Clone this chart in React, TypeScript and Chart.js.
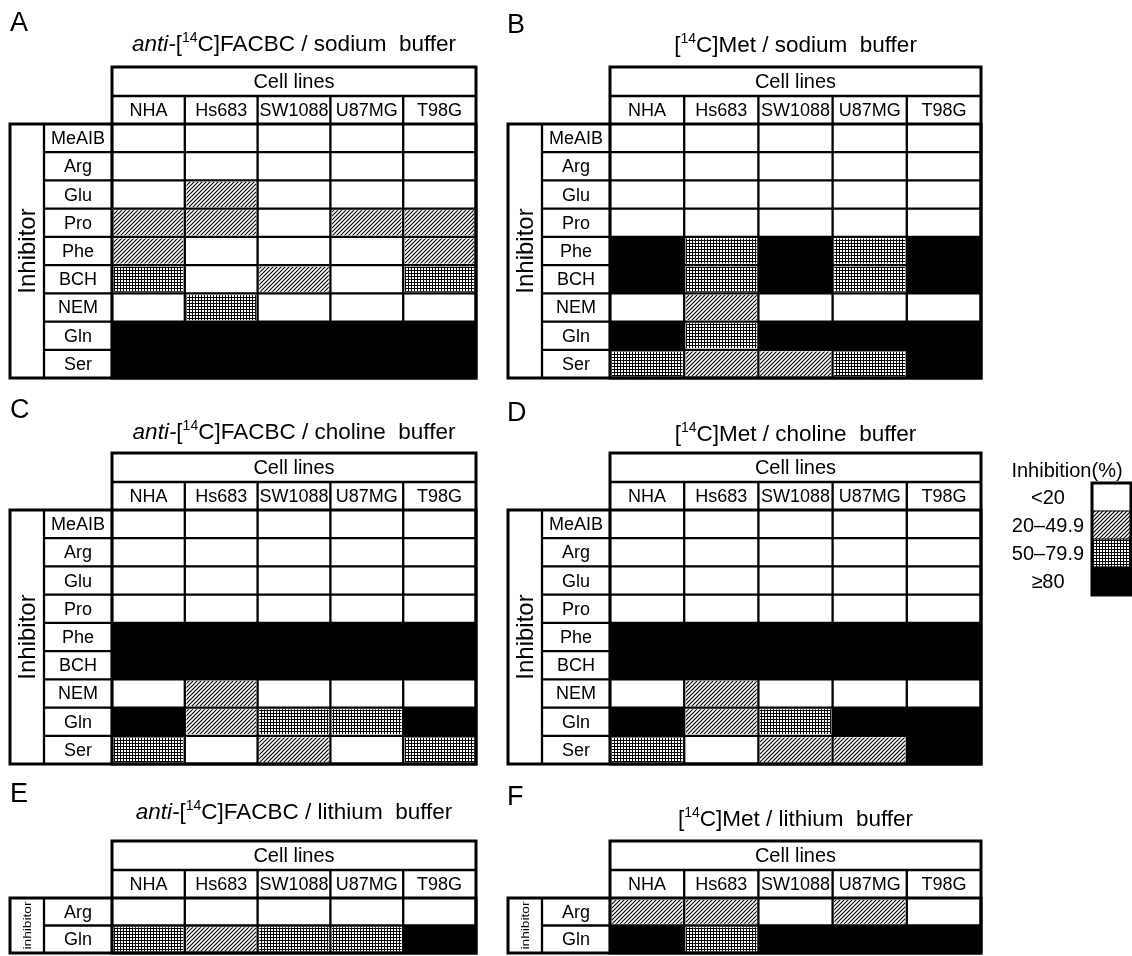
import React, { useEffect, useRef } from 'react';
import { Chart, registerables } from 'chart.js';
Chart.register(...registerables);

const FONT = '"Liberation Sans", Arial, Helvetica, sans-serif';

// ---------- data ----------
const cellLines = ['NHA', 'Hs683', 'SW1088', 'U87MG', 'T98G'];
const inhibitors = ['MeAIB', 'Arg', 'Glu', 'Pro', 'Phe', 'BCH', 'NEM', 'Gln', 'Ser'];
const lithiumInhibitors = ['Arg', 'Gln'];
// levels: 0 = <20, 1 = 20–49.9, 2 = 50–79.9, 3 = ≥80   (rows = inhibitors, cols = cell lines)
const legendLabels = ['<20', '20–49.9', '50–79.9', '≥80'];
const legendLevels = [0, 1, 2, 3];

const facbcSodium = [
  [0, 0, 0, 0, 0],
  [0, 0, 0, 0, 0],
  [0, 1, 0, 0, 0],
  [1, 1, 0, 1, 1],
  [1, 0, 0, 0, 1],
  [2, 0, 1, 0, 2],
  [0, 2, 0, 0, 0],
  [3, 3, 3, 3, 3],
  [3, 3, 3, 3, 3],
];
const metSodium = [
  [0, 0, 0, 0, 0],
  [0, 0, 0, 0, 0],
  [0, 0, 0, 0, 0],
  [0, 0, 0, 0, 0],
  [3, 2, 3, 2, 3],
  [3, 2, 3, 2, 3],
  [0, 1, 0, 0, 0],
  [3, 2, 3, 3, 3],
  [2, 1, 1, 2, 3],
];
const facbcCholine = [
  [0, 0, 0, 0, 0],
  [0, 0, 0, 0, 0],
  [0, 0, 0, 0, 0],
  [0, 0, 0, 0, 0],
  [3, 3, 3, 3, 3],
  [3, 3, 3, 3, 3],
  [0, 1, 0, 0, 0],
  [3, 1, 2, 2, 3],
  [2, 0, 1, 0, 2],
];
const metCholine = [
  [0, 0, 0, 0, 0],
  [0, 0, 0, 0, 0],
  [0, 0, 0, 0, 0],
  [0, 0, 0, 0, 0],
  [3, 3, 3, 3, 3],
  [3, 3, 3, 3, 3],
  [0, 1, 0, 0, 0],
  [3, 1, 2, 3, 3],
  [2, 0, 1, 1, 3],
];
const facbcLithium = [
  [0, 0, 0, 0, 0],
  [2, 1, 2, 2, 3],
];
const metLithium = [
  [1, 1, 0, 1, 0],
  [3, 2, 3, 3, 3],
];

// ---------- fills ----------
let fillCache: any[] | null = null;
function getFills() {
  if (fillCache) return fillCache;
  const hatch = document.createElement('canvas');
  hatch.width = 4; hatch.height = 4;
  const h = hatch.getContext('2d')!;
  h.fillStyle = '#fff'; h.fillRect(0, 0, 4, 4);
  h.strokeStyle = '#000'; h.lineWidth = 1.1;
  h.beginPath();
  h.moveTo(0, 4); h.lineTo(4, 0);
  h.moveTo(-1, 1); h.lineTo(1, -1);
  h.moveTo(3, 5); h.lineTo(5, 3);
  h.stroke();
  const grid = document.createElement('canvas');
  grid.width = 3; grid.height = 3;
  const g = grid.getContext('2d')!;
  g.fillStyle = '#fff'; g.fillRect(0, 0, 3, 3);
  g.fillStyle = '#000'; g.fillRect(0, 0, 3, 1); g.fillRect(0, 0, 1, 3);
  const ctx = document.createElement('canvas').getContext('2d')!;
  fillCache = ['#ffffff', ctx.createPattern(hatch, 'repeat'), ctx.createPattern(grid, 'repeat'), '#000000'];
  return fillCache;
}

type Seg = { t: string; italic?: boolean; sup?: boolean };

function drawTitle(ctx: CanvasRenderingContext2D, segs: Seg[], cx: number, baseline: number, size: number) {
  const supSize = Math.round(size * 0.62);
  const fontFor = (s: Seg) => `${s.italic ? 'italic ' : ''}${s.sup ? supSize : size}px ${FONT}`;
  const widths = segs.map((s) => { ctx.font = fontFor(s); return ctx.measureText(s.t).width; });
  const total = widths.reduce((a, b) => a + b, 0);
  let x = cx - total / 2;
  ctx.textAlign = 'left';
  ctx.textBaseline = 'alphabetic';
  segs.forEach((s, i) => {
    ctx.font = fontFor(s);
    ctx.fillText(s.t, x, s.sup ? baseline - size * 0.4 : baseline);
    x += widths[i];
  });
}

type PanelSpec = {
  letter: string; letterX: number; letterY: number;
  title: Seg[]; titleY: number;
  rows: string[]; values: number[][];
  left: number; top: number; width: number; height: number;
  padL: number; padR: number; padT: number; padB: number;
  axisLabel: string; axisFont: number; axisStretch: number;
};

function tablePlugin(spec: PanelSpec) {
  return {
    id: 'tableFrame',
    afterDatasetsDraw(chart: any) {
      const ctx: CanvasRenderingContext2D = chart.ctx;
      const xs = chart.scales.x;
      const ys = chart.scales.y;
      const n = spec.rows.length;
      const colEdges = [0, 1, 2, 3, 4, 5].map((v) => xs.getPixelForValue(v));
      const rowEdges: number[] = [];
      for (let i = 0; i <= n; i++) rowEdges.push(ys.getPixelForValue(i - 0.5));
      const top = rowEdges[0], bottom = rowEdges[n];
      const left = colEdges[0], right = colEdges[5];
      const hdr2 = top - 28;
      const hdr1 = hdr2 - 29;
      const labL = left - 68;
      const inhL = labL - 34;
      ctx.save();
      ctx.strokeStyle = '#000';
      ctx.fillStyle = '#000';
      ctx.lineWidth = 2.3;
      ctx.beginPath();
      ctx.moveTo(left, hdr2); ctx.lineTo(right, hdr2);
      for (let c = 1; c < 5; c++) { ctx.moveTo(colEdges[c], hdr2); ctx.lineTo(colEdges[c], bottom); }
      for (let r = 1; r < n; r++) { ctx.moveTo(labL, rowEdges[r]); ctx.lineTo(right, rowEdges[r]); }
      ctx.moveTo(labL, top); ctx.lineTo(labL, bottom);
      ctx.moveTo(left, top); ctx.lineTo(left, bottom);
      ctx.stroke();
      ctx.lineWidth = 3;
      ctx.strokeRect(left, hdr1, right - left, bottom - hdr1);
      ctx.strokeRect(inhL, top, right - inhL, bottom - top);

      ctx.textAlign = 'center';
      ctx.textBaseline = 'middle';
      ctx.font = `20px ${FONT}`;
      ctx.fillText('Cell lines', (left + right) / 2, (hdr1 + hdr2) / 2 + 1);
      ctx.font = `18px ${FONT}`;
      cellLines.forEach((name, c) => {
        ctx.fillText(name, (colEdges[c] + colEdges[c + 1]) / 2, (hdr2 + top) / 2 + 1);
      });
      spec.rows.forEach((name, r) => {
        ctx.fillText(name, (labL + left) / 2, ys.getPixelForValue(r) + 1);
      });
      ctx.save();
      ctx.translate((inhL + labL) / 2 + 1, (top + bottom) / 2);
      ctx.rotate(-Math.PI / 2);
      ctx.scale(spec.axisStretch, 1);
      ctx.font = `${spec.axisFont}px ${FONT}`;
      ctx.fillText(spec.axisLabel, 0, 0);
      ctx.restore();

      ctx.font = `27px ${FONT}`;
      ctx.textAlign = 'left';
      ctx.textBaseline = 'alphabetic';
      ctx.fillText(spec.letter, spec.letterX, spec.letterY);
      drawTitle(ctx, spec.title, (left + right) / 2, spec.titleY, 22.5);
      ctx.restore();
    },
  };
}

function Panel({ spec }: { spec: PanelSpec }) {
  const ref = useRef<HTMLCanvasElement>(null);
  useEffect(() => {
    const fills = getFills();
    const chart = new Chart(ref.current!, {
      type: 'bar',
      data: {
        labels: spec.rows,
        datasets: cellLines.map((name, c) => ({
          label: name,
          data: spec.rows.map(() => [c, c + 1]) as any,
          backgroundColor: spec.values.map((row) => fills[row[c]]),
          borderColor: '#ffffff',
          borderWidth: spec.values.map((row) => (row[c] === 1 || row[c] === 2 ? 2 : 0)),
          borderSkipped: false,
          barPercentage: 1,
          categoryPercentage: 1,
          grouped: false,
        })),
      },
      options: {
        indexAxis: 'y',
        responsive: false,
        animation: false,
        events: [],
        layout: { padding: { left: spec.padL, right: spec.padR, top: spec.padT, bottom: spec.padB } },
        plugins: { legend: { display: false }, tooltip: { enabled: false }, title: { display: false } },
        scales: {
          x: { type: 'linear', min: 0, max: 5, display: false },
          y: { type: 'category', offset: true, display: false },
        },
      },
      plugins: [tablePlugin(spec)],
    } as any);
    return () => chart.destroy();
  }, []);
  return (
    <canvas
      ref={ref}
      width={spec.width}
      height={spec.height}
      style={{ position: 'absolute', left: spec.left, top: spec.top, width: spec.width, height: spec.height }}
    />
  );
}

function Legend() {
  const ref = useRef<HTMLCanvasElement>(null);
  useEffect(() => {
    const fills = getFills();
    const chart = new Chart(ref.current!, {
      type: 'bar',
      data: {
        labels: legendLabels,
        datasets: [{
          label: 'Inhibition(%)',
          data: legendLevels.map(() => [0, 1]) as any,
          backgroundColor: legendLevels.map((l) => fills[l]),
          borderWidth: 0,
          barPercentage: 1,
          categoryPercentage: 1,
        }],
      },
      options: {
        indexAxis: 'y',
        responsive: false,
        animation: false,
        events: [],
        layout: { padding: { left: 92, right: 1, top: 33, bottom: 5 } },
        plugins: { legend: { display: false }, tooltip: { enabled: false } },
        scales: {
          x: { type: 'linear', min: 0, max: 1, display: false },
          y: { type: 'category', offset: true, display: false },
        },
      },
      plugins: [{
        id: 'legendFrame',
        afterDatasetsDraw(c: any) {
          const ctx: CanvasRenderingContext2D = c.ctx;
          const xs = c.scales.x, ys = c.scales.y;
          const l = xs.getPixelForValue(0), r = xs.getPixelForValue(1);
          const t = ys.getPixelForValue(-0.5), b = ys.getPixelForValue(legendLabels.length - 0.5);
          ctx.save();
          ctx.strokeStyle = '#000';
          ctx.lineWidth = 1;
          ctx.beginPath();
          for (let i = 1; i < legendLabels.length; i++) {
            const y = ys.getPixelForValue(i - 0.5);
            ctx.moveTo(l, y); ctx.lineTo(r, y);
          }
          ctx.stroke();
          ctx.lineWidth = 3;
          ctx.strokeRect(l, t, r - l, b - t);
          ctx.fillStyle = '#000';
          ctx.font = `20px ${FONT}`;
          ctx.textAlign = 'center';
          ctx.textBaseline = 'middle';
          ctx.fillText('Inhibition(%)', 67, 21);
          legendLabels.forEach((lab, i) => ctx.fillText(lab, 48, ys.getPixelForValue(i) + 1));
          ctx.restore();
        },
      }],
    } as any);
    return () => chart.destroy();
  }, []);
  return (
    <canvas ref={ref} width={132} height={150}
      style={{ position: 'absolute', left: 1000, top: 450, width: 132, height: 150 }} />
  );
}

const facbcTitle = (buffer: string): Seg[] => [
  { t: 'anti-', italic: true }, { t: '[' }, { t: '14', sup: true }, { t: `C]FACBC / ${buffer}  buffer` },
];
const metTitle = (buffer: string): Seg[] => [
  { t: '[' }, { t: '14', sup: true }, { t: `C]Met / ${buffer}  buffer` },
];

const leftGeom = { left: 0, width: 500, padL: 112, padR: 24 };
const rightGeom = { left: 500, width: 500, padL: 110, padR: 19 };

const panelSpecs: PanelSpec[] = [
  { ...leftGeom, letter: 'A', letterX: 10, letterY: 31, title: facbcTitle('sodium'), titleY: 51,
    rows: inhibitors, values: facbcSodium, top: 0, height: 386, padT: 124, padB: 8,
    axisLabel: 'Inhibitor', axisFont: 24, axisStretch: 1 },
  { ...rightGeom, letter: 'B', letterX: 7, letterY: 33, title: metTitle('sodium'), titleY: 52,
    rows: inhibitors, values: metSodium, top: 0, height: 386, padT: 124, padB: 8,
    axisLabel: 'Inhibitor', axisFont: 24, axisStretch: 1 },
  { ...leftGeom, letter: 'C', letterX: 10, letterY: 32, title: facbcTitle('choline'), titleY: 53,
    rows: inhibitors, values: facbcCholine, top: 386, height: 386, padT: 124, padB: 8,
    axisLabel: 'Inhibitor', axisFont: 24, axisStretch: 1 },
  { ...rightGeom, letter: 'D', letterX: 7, letterY: 35, title: metTitle('choline'), titleY: 55,
    rows: inhibitors, values: metCholine, top: 386, height: 386, padT: 124, padB: 8,
    axisLabel: 'Inhibitor', axisFont: 24, axisStretch: 1 },
  { ...leftGeom, letter: 'E', letterX: 10, letterY: 30, title: facbcTitle('lithium'), titleY: 47,
    rows: lithiumInhibitors, values: facbcLithium, top: 772, height: 184, padT: 126, padB: 3,
    axisLabel: 'inhibitor', axisFont: 11, axisStretch: 1.25 },
  { ...rightGeom, letter: 'F', letterX: 7, letterY: 33, title: metTitle('lithium'), titleY: 54,
    rows: lithiumInhibitors, values: metLithium, top: 772, height: 184, padT: 126, padB: 3,
    axisLabel: 'inhibitor', axisFont: 11, axisStretch: 1.25 },
];

export default function App() {
  return (
    <div style={{ position: 'absolute', left: 0, top: 0, width: 1132, height: 956, background: '#fff', overflow: 'hidden' }}>
      {panelSpecs.map((s) => <Panel key={s.letter} spec={s} />)}
      <Legend />
    </div>
  );
}
